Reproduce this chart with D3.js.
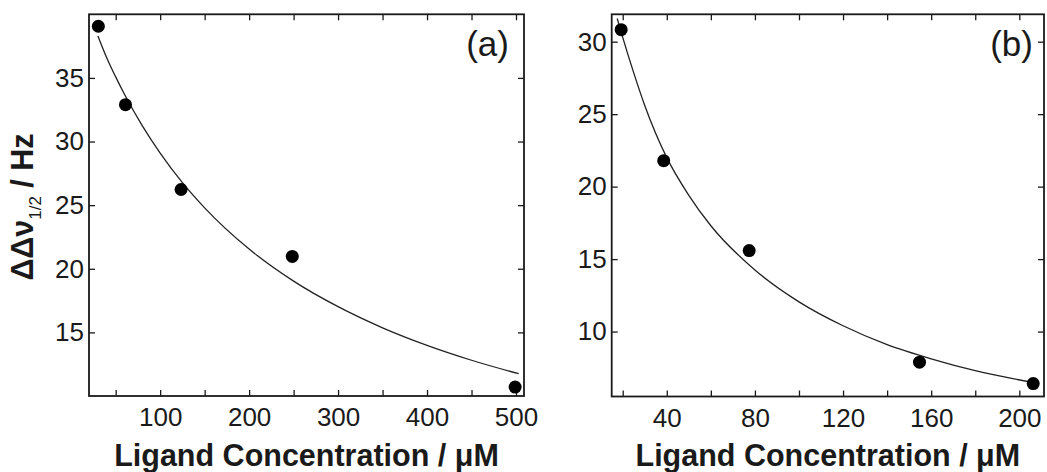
<!DOCTYPE html>
<html>
<head>
<meta charset="utf-8">
<script src="https://cdn.jsdelivr.net/npm/d3@7"></script>
<style>
  html, body { margin: 0; padding: 0; background: #fff; }
  svg { display: block; font-family: "Liberation Sans", Arial, Helvetica, sans-serif; }
</style>
</head>
<body>
<svg id="chart" width="1047" height="472"></svg>
<script>
// Panel (a): measured line broadening vs ligand concentration
const concA  = [30.5, 61, 123.5, 248.5, 499];
const widthA = [39.06, 32.9, 26.23, 20.97, 10.7];
// fitted binding curve, panel (a)
const fitConcA  = [30, 40, 50, 60, 80, 100, 125, 150, 200, 250, 300, 350, 400, 450, 503];
const fitWidthA = [38.3, 36.57, 35.08, 33.7, 31.23, 29.09, 26.77, 24.79, 21.55, 19.03, 17.02, 15.36, 13.98, 12.81, 11.75];
const xTicksA  = [50, 100, 150, 200, 250, 300, 350, 400, 450, 500];
const xLabelsA = [100, 200, 300, 400, 500];
const yTicksA  = [15, 20, 25, 30, 35];

// Panel (b)
const concB  = [19.3, 38.6, 77.4, 154.7, 206.3];
const widthB = [30.83, 21.79, 15.59, 7.89, 6.41];
const fitConcB  = [17.5, 20, 25, 30, 40, 50, 60, 80, 100, 120, 140, 160, 180, 207];
const fitWidthB = [31.6, 30.3, 27.85, 25.6, 22.0, 19.4, 17.3, 14.25, 12.05, 10.4, 9.1, 8.12, 7.3, 6.47];
const xTicksB  = [20, 40, 60, 80, 100, 120, 140, 160, 180, 200];
const xLabelsB = [40, 80, 120, 160, 200];
const yTicksB  = [10, 15, 20, 25, 30];

const panelTags = ["(a)", "(b)"];
const xTitle = "Ligand Concentration / \u03BCM";

const svg = d3.select("#chart");
svg.append("rect").attr("width", 1047).attr("height", 472).attr("fill", "#fff");

const ink = "#1a1a1a";

function drawPanel(opt) {
  const { left, right, top, bottom } = opt.box;
  const x = d3.scaleLinear().domain(opt.xDomain).range([left, right]);
  const y = d3.scaleLinear().domain(opt.yDomain).range([bottom, top]);

  const g = svg.append("g");

  const fmtX = d => opt.xLabels.includes(d) ? String(d) : "";

  function styleAxis(sel) {
    sel.select(".domain").remove();
    sel.selectAll(".tick line").attr("stroke", ink).attr("stroke-width", 1.3);
    sel.selectAll(".tick text").attr("fill", ink).attr("font-size", 26)
      .attr("font-family", "'Liberation Sans', Arial, sans-serif");
  }

  g.append("g").attr("transform", `translate(0,${bottom})`)
    .call(d3.axisBottom(x).tickValues(opt.xTicks).tickFormat(fmtX)
      .tickSize(-6).tickSizeOuter(0).tickPadding(12))
    .call(styleAxis);
  g.append("g").attr("transform", `translate(0,${top})`)
    .call(d3.axisTop(x).tickValues(opt.xTicks).tickFormat("")
      .tickSize(-6).tickSizeOuter(0))
    .call(styleAxis);
  g.append("g").attr("transform", `translate(${left},0)`)
    .call(d3.axisLeft(y).tickValues(opt.yTicks).tickFormat(d3.format("d"))
      .tickSize(-6).tickSizeOuter(0).tickPadding(5))
    .call(styleAxis);
  g.append("g").attr("transform", `translate(${right},0)`)
    .call(d3.axisRight(y).tickValues(opt.yTicks).tickFormat("")
      .tickSize(-6).tickSizeOuter(0))
    .call(styleAxis);

  // plot frame
  g.append("rect")
    .attr("x", left).attr("y", top)
    .attr("width", right - left).attr("height", bottom - top)
    .attr("fill", "none").attr("stroke", ink).attr("stroke-width", 1.8);

  // fitted curve
  const fit = opt.fitX.map((v, i) => [v, opt.fitY[i]]);
  g.append("path")
    .datum(fit)
    .attr("fill", "none")
    .attr("stroke", "#222")
    .attr("stroke-width", 1.3)
    .attr("d", d3.line().x(d => x(d[0])).y(d => y(d[1])).curve(d3.curveMonotoneX));

  // measured points
  g.selectAll("circle.pt")
    .data(opt.px.map((v, i) => [v, opt.py[i]]))
    .join("circle")
    .attr("class", "pt")
    .attr("cx", d => x(d[0]))
    .attr("cy", d => y(d[1]))
    .attr("r", 6.5)
    .attr("fill", "#000");

  // panel tag
  g.append("text")
    .attr("x", right - opt.tagInset).attr("y", top + 42)
    .attr("text-anchor", "end")
    .attr("font-size", 35)
    .attr("fill", ink)
    .text(opt.tag);

  // x-axis title
  g.append("text")
    .attr("x", (left + right) / 2).attr("y", 466)
    .attr("text-anchor", "middle")
    .attr("font-size", 30.5)
    .attr("font-weight", "bold")
    .attr("fill", ink)
    .text(xTitle);

  return { x, y };
}

drawPanel({
  box: { left: 89, right: 524, top: 14.3, bottom: 396 },
  xDomain: [20, 509], yDomain: [10, 40],
  xTicks: xTicksA, xLabels: xLabelsA, yTicks: yTicksA,
  fitX: fitConcA, fitY: fitWidthA, px: concA, py: widthA,
  tag: panelTags[0], tagInset: 15
});

drawPanel({
  box: { left: 611.7, right: 1044, top: 14.3, bottom: 396.5 },
  xDomain: [15, 211.2], yDomain: [5.52, 31.89],
  xTicks: xTicksB, xLabels: xLabelsB, yTicks: yTicksB,
  fitX: fitConcB, fitY: fitWidthB, px: concB, py: widthB,
  tag: panelTags[1], tagInset: 11
});

// y-axis title, shared by both panels
const yTitle = svg.append("text")
  .attr("transform", "translate(33,207) rotate(-90)")
  .attr("text-anchor", "middle")
  .attr("fill", ink)
  .attr("font-size", 30.5)
  .attr("font-weight", "bold");
yTitle.append("tspan").text("\u0394\u0394\u03BD");
yTitle.append("tspan").attr("font-size", 17).attr("font-weight", "normal").attr("dy", 8).text("1/2");
yTitle.append("tspan").attr("dy", -8).text(" / Hz");
</script>
</body>
</html>
